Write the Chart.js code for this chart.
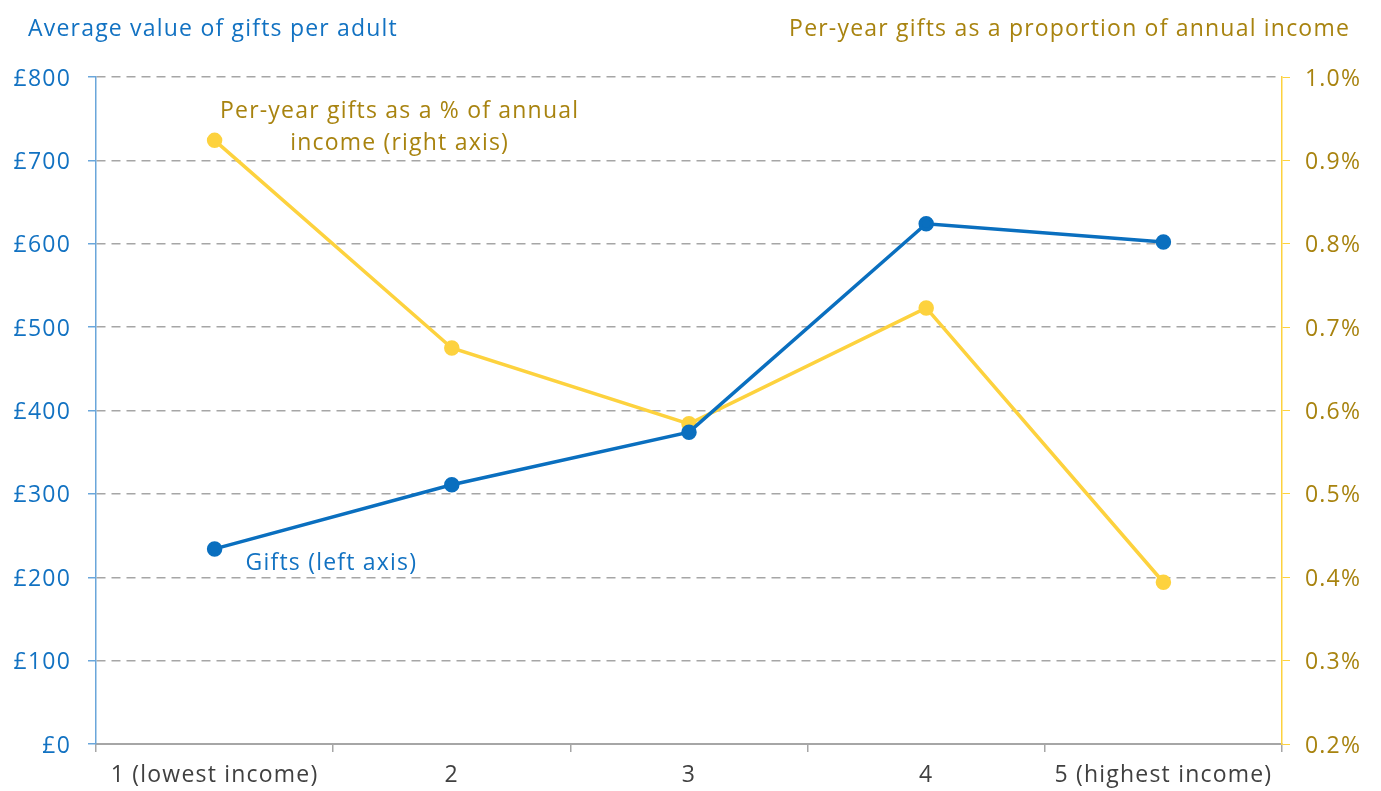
<!DOCTYPE html>
<html>
<head>
<meta charset="utf-8">
<script src="https://cdn.jsdelivr.net/npm/chart.js@4.4.0/dist/chart.umd.min.js"></script>
<style>
  html, body { margin: 0; padding: 0; background: #fff; }
  #wrap { width: 1381px; height: 791px; position: relative; }
</style>
</head>
<body>
<div id="wrap"><canvas id="chart"></canvas></div>
<script>
// income quintiles
var quintiles = ['1 (lowest income)', '2', '3', '4', '5 (highest income)'];
// average value of gifts per adult, £
var gifts = [234, 311, 374, 624, 602];
// per-year gifts as % of annual income
var giftShare = [0.924, 0.675, 0.584, 0.723, 0.394];

var blue = '#0a6fbf';
var blueText = '#1272c2';
var blueAxis = '#6aa6da';
var yellow = '#fdd23e';
var goldText = '#a8830f';
var gridGrey = '#a6a6a6';
var fontFam = '"Open Sans", "Noto Sans", sans-serif';
var fontSize = 23;
var spacing = '1.2px';

// wider letter spacing, the original font is wider than what we have
var spacingPlugin = {
  id: 'spacing',
  beforeDraw: function (chart) {
    chart.ctx.letterSpacing = spacing;
  }
};

// titles and the two in-chart labels
var textPlugin = {
  id: 'texts',
  afterDraw: function (chart) {
    var c = chart.ctx;
    var x = chart.scales.x;
    var yl = chart.scales.y;
    var yr = chart.scales.y1;
    c.save();
    c.letterSpacing = spacing;
    c.font = fontSize + 'px ' + fontFam;
    c.textBaseline = 'middle';
    c.fillStyle = blueText;
    c.textAlign = 'left';
    c.fillText('Average value of gifts per adult', 28, 29);
    c.fillStyle = goldText;
    c.textAlign = 'right';
    c.fillText('Per-year gifts as a proportion of annual income', 1350, 29);

    c.textAlign = 'center';
    c.fillText('Per-year gifts as a % of annual', x.getPixelForValue(0) + 185, yr.getPixelForValue(0.959));
    c.fillText('income (right axis)', x.getPixelForValue(0) + 185, yr.getPixelForValue(0.92));

    c.fillStyle = blueText;
    c.textAlign = 'left';
    c.fillText('Gifts (left axis)', x.getPixelForValue(0) + 31, yl.getPixelForValue(217));
    c.restore();
  }
};

new Chart(document.getElementById('chart'), {
  type: 'line',
  data: {
    labels: quintiles,
    datasets: [{
      label: 'Gifts (left axis)',
      data: gifts,
      yAxisID: 'y',
      borderColor: blue,
      backgroundColor: blue,
      borderWidth: 3.5,
      pointRadius: 6,
      pointHoverRadius: 6,
      tension: 0
    }, {
      label: 'Per-year gifts as a % of annual income (right axis)',
      data: giftShare,
      yAxisID: 'y1',
      borderColor: yellow,
      backgroundColor: yellow,
      borderWidth: 3.5,
      pointRadius: 6,
      pointHoverRadius: 6,
      tension: 0
    }]
  },
  options: {
    responsive: true,
    maintainAspectRatio: false,
    animation: false,
    layout: { padding: { top: 77, left: 0, right: 0, bottom: 0 } },
    plugins: {
      legend: { display: false },
      tooltip: { enabled: false }
    },
    scales: {
      x: {
        offset: true,
        grid: {
          drawOnChartArea: false,
          offset: true,
          tickLength: 8,
          color: gridGrey,
          lineWidth: 1.5
        },
        border: { color: gridGrey, width: 2 },
        ticks: {
          color: '#404040',
          font: { family: fontFam, size: fontSize },
          padding: 10,
          maxRotation: 0
        },
        afterFit: function (s) { s.height = 47; }
      },
      y: {
        position: 'left',
        min: 0,
        max: 800,
        grid: {
          color: gridGrey,
          lineWidth: 1.5,
          tickColor: blueAxis,
          tickLength: 8
        },
        border: { color: blueAxis, width: 1.5, dash: [9, 6] },
        ticks: {
          stepSize: 100,
          color: blueText,
          font: { family: fontFam, size: fontSize },
          padding: 17,
          labelOffset: 2,
          callback: function (v) { return '£' + v; }
        },
        afterFit: function (s) { s.width = 96; }
      },
      y1: {
        position: 'right',
        min: 0.2,
        max: 1.0,
        grid: {
          drawOnChartArea: false,
          tickColor: yellow,
          color: yellow,
          tickLength: 8
        },
        border: { color: yellow, width: 1.5 },
        ticks: {
          stepSize: 0.1,
          color: goldText,
          font: { family: fontFam, size: fontSize },
          padding: 15,
          labelOffset: 2,
          callback: function (v) { return v.toFixed(1) + '%'; }
        },
        afterFit: function (s) { s.width = 99; }
      }
    }
  },
  plugins: [spacingPlugin, textPlugin]
});
</script>
</body>
</html>
